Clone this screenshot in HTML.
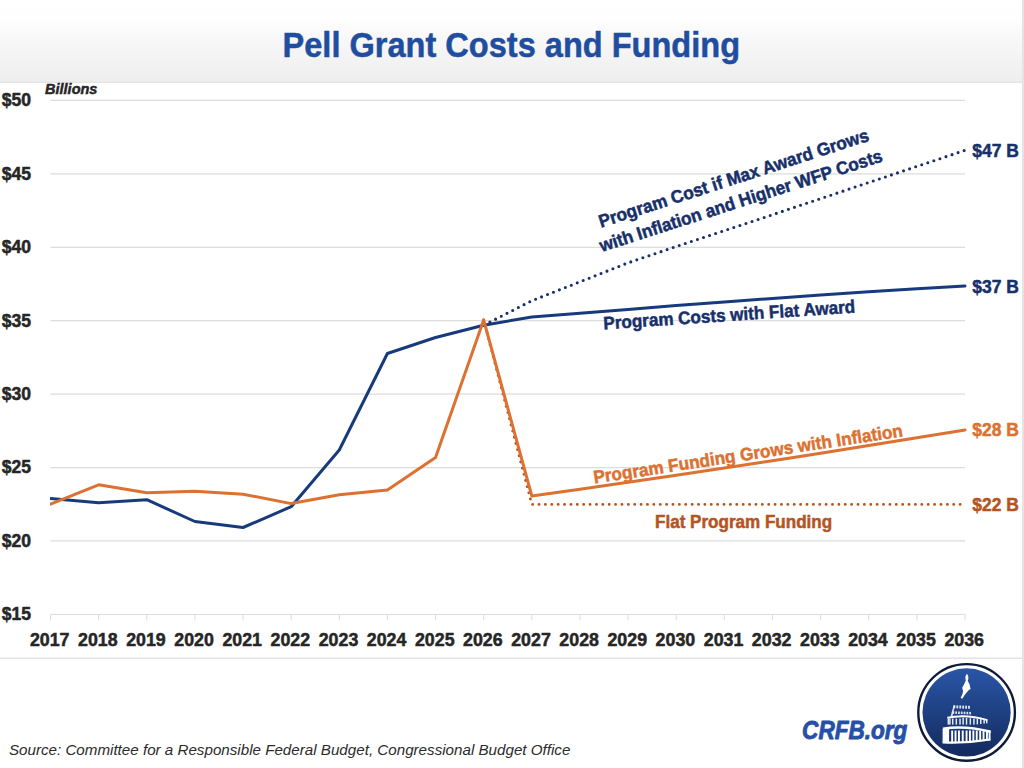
<!DOCTYPE html>
<html><head><meta charset="utf-8"><style>
html,body{margin:0;padding:0;background:#fff;}
body{width:1024px;height:768px;overflow:hidden;}
svg{display:block;font-family:"Liberation Sans", sans-serif;}
text{stroke-width:0.5px;stroke-linejoin:round;}
</style></head><body>
<svg width="1024" height="768" viewBox="0 0 1024 768">
<defs><linearGradient id="hg" x1="0" y1="0" x2="0" y2="1"><stop offset="0" stop-color="#ffffff"/><stop offset="0.24" stop-color="#fefefe"/><stop offset="0.5" stop-color="#f7f7f7"/><stop offset="1" stop-color="#eeeeee"/></linearGradient><linearGradient id="lg" x1="0" y1="0" x2="0" y2="1"><stop offset="0" stop-color="#2a56a6"/><stop offset="1" stop-color="#132a5e"/></linearGradient><clipPath id="pc"><rect x="50" y="0" width="974" height="768"/></clipPath></defs>
<rect x="0" y="0" width="1024" height="82.8" fill="url(#hg)"/>
<rect x="0" y="81.6" width="1024" height="1.2" fill="#e2e2e2"/>
<text x="511.3" y="57.4" text-anchor="middle" font-size="35" font-weight="bold" fill="#1f4ea0" stroke="#1f4ea0" textLength="457.5" lengthAdjust="spacingAndGlyphs">Pell Grant Costs and Funding</text>
<line x1="50.5" y1="100.40" x2="965.0" y2="100.40" stroke="#dcdcdc" stroke-width="1.25"/>
<line x1="50.5" y1="173.83" x2="965.0" y2="173.83" stroke="#dcdcdc" stroke-width="1.25"/>
<line x1="50.5" y1="247.26" x2="965.0" y2="247.26" stroke="#dcdcdc" stroke-width="1.25"/>
<line x1="50.5" y1="320.69" x2="965.0" y2="320.69" stroke="#dcdcdc" stroke-width="1.25"/>
<line x1="50.5" y1="394.11" x2="965.0" y2="394.11" stroke="#dcdcdc" stroke-width="1.25"/>
<line x1="50.5" y1="467.54" x2="965.0" y2="467.54" stroke="#dcdcdc" stroke-width="1.25"/>
<line x1="50.5" y1="540.97" x2="965.0" y2="540.97" stroke="#dcdcdc" stroke-width="1.25"/>
<line x1="50.5" y1="614.40" x2="965.0" y2="614.40" stroke="#dcdcdc" stroke-width="1"/>
<line x1="50.50" y1="614.40" x2="50.50" y2="620.40" stroke="#dcdcdc" stroke-width="1"/>
<line x1="98.63" y1="614.40" x2="98.63" y2="620.40" stroke="#dcdcdc" stroke-width="1"/>
<line x1="146.76" y1="614.40" x2="146.76" y2="620.40" stroke="#dcdcdc" stroke-width="1"/>
<line x1="194.89" y1="614.40" x2="194.89" y2="620.40" stroke="#dcdcdc" stroke-width="1"/>
<line x1="243.03" y1="614.40" x2="243.03" y2="620.40" stroke="#dcdcdc" stroke-width="1"/>
<line x1="291.16" y1="614.40" x2="291.16" y2="620.40" stroke="#dcdcdc" stroke-width="1"/>
<line x1="339.29" y1="614.40" x2="339.29" y2="620.40" stroke="#dcdcdc" stroke-width="1"/>
<line x1="387.42" y1="614.40" x2="387.42" y2="620.40" stroke="#dcdcdc" stroke-width="1"/>
<line x1="435.55" y1="614.40" x2="435.55" y2="620.40" stroke="#dcdcdc" stroke-width="1"/>
<line x1="483.68" y1="614.40" x2="483.68" y2="620.40" stroke="#dcdcdc" stroke-width="1"/>
<line x1="531.82" y1="614.40" x2="531.82" y2="620.40" stroke="#dcdcdc" stroke-width="1"/>
<line x1="579.95" y1="614.40" x2="579.95" y2="620.40" stroke="#dcdcdc" stroke-width="1"/>
<line x1="628.08" y1="614.40" x2="628.08" y2="620.40" stroke="#dcdcdc" stroke-width="1"/>
<line x1="676.21" y1="614.40" x2="676.21" y2="620.40" stroke="#dcdcdc" stroke-width="1"/>
<line x1="724.34" y1="614.40" x2="724.34" y2="620.40" stroke="#dcdcdc" stroke-width="1"/>
<line x1="772.47" y1="614.40" x2="772.47" y2="620.40" stroke="#dcdcdc" stroke-width="1"/>
<line x1="820.61" y1="614.40" x2="820.61" y2="620.40" stroke="#dcdcdc" stroke-width="1"/>
<line x1="868.74" y1="614.40" x2="868.74" y2="620.40" stroke="#dcdcdc" stroke-width="1"/>
<line x1="916.87" y1="614.40" x2="916.87" y2="620.40" stroke="#dcdcdc" stroke-width="1"/>
<line x1="965.00" y1="614.40" x2="965.00" y2="620.40" stroke="#dcdcdc" stroke-width="1"/>
<text x="31.0" y="106.35" text-anchor="end" font-size="17.6" font-weight="bold" fill="#262626" stroke="#262626" textLength="29.3" lengthAdjust="spacingAndGlyphs">$50</text>
<text x="31.0" y="179.78" text-anchor="end" font-size="17.6" font-weight="bold" fill="#262626" stroke="#262626" textLength="29.3" lengthAdjust="spacingAndGlyphs">$45</text>
<text x="31.0" y="253.21" text-anchor="end" font-size="17.6" font-weight="bold" fill="#262626" stroke="#262626" textLength="29.3" lengthAdjust="spacingAndGlyphs">$40</text>
<text x="31.0" y="326.64" text-anchor="end" font-size="17.6" font-weight="bold" fill="#262626" stroke="#262626" textLength="29.3" lengthAdjust="spacingAndGlyphs">$35</text>
<text x="31.0" y="400.06" text-anchor="end" font-size="17.6" font-weight="bold" fill="#262626" stroke="#262626" textLength="29.3" lengthAdjust="spacingAndGlyphs">$30</text>
<text x="31.0" y="473.49" text-anchor="end" font-size="17.6" font-weight="bold" fill="#262626" stroke="#262626" textLength="29.3" lengthAdjust="spacingAndGlyphs">$25</text>
<text x="31.0" y="546.92" text-anchor="end" font-size="17.6" font-weight="bold" fill="#262626" stroke="#262626" textLength="29.3" lengthAdjust="spacingAndGlyphs">$20</text>
<text x="31.0" y="620.35" text-anchor="end" font-size="17.6" font-weight="bold" fill="#262626" stroke="#262626" textLength="29.3" lengthAdjust="spacingAndGlyphs">$15</text>
<text x="49.70" y="645.8" text-anchor="middle" font-size="18.2" font-weight="bold" fill="#262626" stroke="#262626" textLength="39.6" lengthAdjust="spacingAndGlyphs">2017</text>
<text x="97.83" y="645.8" text-anchor="middle" font-size="18.2" font-weight="bold" fill="#262626" stroke="#262626" textLength="39.6" lengthAdjust="spacingAndGlyphs">2018</text>
<text x="145.96" y="645.8" text-anchor="middle" font-size="18.2" font-weight="bold" fill="#262626" stroke="#262626" textLength="39.6" lengthAdjust="spacingAndGlyphs">2019</text>
<text x="194.09" y="645.8" text-anchor="middle" font-size="18.2" font-weight="bold" fill="#262626" stroke="#262626" textLength="39.6" lengthAdjust="spacingAndGlyphs">2020</text>
<text x="242.23" y="645.8" text-anchor="middle" font-size="18.2" font-weight="bold" fill="#262626" stroke="#262626" textLength="39.6" lengthAdjust="spacingAndGlyphs">2021</text>
<text x="290.36" y="645.8" text-anchor="middle" font-size="18.2" font-weight="bold" fill="#262626" stroke="#262626" textLength="39.6" lengthAdjust="spacingAndGlyphs">2022</text>
<text x="338.49" y="645.8" text-anchor="middle" font-size="18.2" font-weight="bold" fill="#262626" stroke="#262626" textLength="39.6" lengthAdjust="spacingAndGlyphs">2023</text>
<text x="386.62" y="645.8" text-anchor="middle" font-size="18.2" font-weight="bold" fill="#262626" stroke="#262626" textLength="39.6" lengthAdjust="spacingAndGlyphs">2024</text>
<text x="434.75" y="645.8" text-anchor="middle" font-size="18.2" font-weight="bold" fill="#262626" stroke="#262626" textLength="39.6" lengthAdjust="spacingAndGlyphs">2025</text>
<text x="482.88" y="645.8" text-anchor="middle" font-size="18.2" font-weight="bold" fill="#262626" stroke="#262626" textLength="39.6" lengthAdjust="spacingAndGlyphs">2026</text>
<text x="531.02" y="645.8" text-anchor="middle" font-size="18.2" font-weight="bold" fill="#262626" stroke="#262626" textLength="39.6" lengthAdjust="spacingAndGlyphs">2027</text>
<text x="579.15" y="645.8" text-anchor="middle" font-size="18.2" font-weight="bold" fill="#262626" stroke="#262626" textLength="39.6" lengthAdjust="spacingAndGlyphs">2028</text>
<text x="627.28" y="645.8" text-anchor="middle" font-size="18.2" font-weight="bold" fill="#262626" stroke="#262626" textLength="39.6" lengthAdjust="spacingAndGlyphs">2029</text>
<text x="675.41" y="645.8" text-anchor="middle" font-size="18.2" font-weight="bold" fill="#262626" stroke="#262626" textLength="39.6" lengthAdjust="spacingAndGlyphs">2030</text>
<text x="723.54" y="645.8" text-anchor="middle" font-size="18.2" font-weight="bold" fill="#262626" stroke="#262626" textLength="39.6" lengthAdjust="spacingAndGlyphs">2031</text>
<text x="771.67" y="645.8" text-anchor="middle" font-size="18.2" font-weight="bold" fill="#262626" stroke="#262626" textLength="39.6" lengthAdjust="spacingAndGlyphs">2032</text>
<text x="819.81" y="645.8" text-anchor="middle" font-size="18.2" font-weight="bold" fill="#262626" stroke="#262626" textLength="39.6" lengthAdjust="spacingAndGlyphs">2033</text>
<text x="867.94" y="645.8" text-anchor="middle" font-size="18.2" font-weight="bold" fill="#262626" stroke="#262626" textLength="39.6" lengthAdjust="spacingAndGlyphs">2034</text>
<text x="916.07" y="645.8" text-anchor="middle" font-size="18.2" font-weight="bold" fill="#262626" stroke="#262626" textLength="39.6" lengthAdjust="spacingAndGlyphs">2035</text>
<text x="964.20" y="645.8" text-anchor="middle" font-size="18.2" font-weight="bold" fill="#262626" stroke="#262626" textLength="39.6" lengthAdjust="spacingAndGlyphs">2036</text>
<text x="45.1" y="93.9" font-size="14.8" font-weight="bold" font-style="italic" fill="#262626" stroke="#262626" textLength="52.3" lengthAdjust="spacingAndGlyphs">Billions</text>
<g clip-path="url(#pc)">
<polyline points="50.50,498.40 98.63,502.80 146.76,499.70 194.89,521.50 243.03,527.50 291.16,506.70 339.29,450.00 387.42,353.50 435.55,337.50 483.68,325.20 531.82,317.00 579.95,313.20 628.08,309.40 676.21,305.60 724.34,302.00 772.47,298.40 820.61,294.90 868.74,291.80 916.87,288.80 965.00,286.00" fill="none" stroke="#173a7c" stroke-width="3" stroke-linejoin="round" stroke-linecap="round"/>
<polyline points="965.00,150.30 916.87,166.40 868.74,182.50 820.61,198.60 772.47,214.70 724.34,230.60 676.21,246.50 628.08,262.80 579.95,281.80 531.82,300.70 483.68,325.20" fill="none" stroke="#17306a" stroke-width="3.1" stroke-linejoin="round" stroke-linecap="round" stroke-dasharray="0 6.39" stroke-dashoffset="5.49"/>
<polyline points="483.68,320.00 531.82,504.40 579.95,504.40 628.08,504.40 676.21,504.40 724.34,504.40 772.47,504.40 820.61,504.40 868.74,504.40 916.87,504.40 965.00,504.40" fill="none" stroke="#b5541f" stroke-width="2.9" stroke-linejoin="round" stroke-linecap="round" stroke-dasharray="0 6.38"/>
<polyline points="50.50,504.10 98.63,484.80 146.76,492.70 194.89,491.30 243.03,494.20 291.16,503.60 339.29,494.80 387.42,489.90 435.55,457.50 483.68,320.00 531.82,496.00 579.95,489.20 628.08,482.27 676.21,475.21 724.34,468.01 772.47,460.68 820.61,453.21 868.74,445.60 916.87,437.84 965.00,429.94" fill="none" stroke="#dc7131" stroke-width="3" stroke-linejoin="round" stroke-linecap="round"/>
</g>
<text x="972.3" y="157.3" font-size="17.8" font-weight="bold" fill="#17306a" stroke="#17306a" textLength="46.6" lengthAdjust="spacingAndGlyphs">$47 B</text>
<text x="972.3" y="292.8" font-size="17.8" font-weight="bold" fill="#17306a" stroke="#17306a" textLength="46.6" lengthAdjust="spacingAndGlyphs">$37 B</text>
<text x="972.3" y="436.4" font-size="17.8" font-weight="bold" fill="#dc7131" stroke="#dc7131" textLength="46.6" lengthAdjust="spacingAndGlyphs">$28 B</text>
<text x="972.3" y="511.2" font-size="17.8" font-weight="bold" fill="#b5541f" stroke="#b5541f" textLength="46.6" lengthAdjust="spacingAndGlyphs">$22 B</text>
<text transform="translate(601.00,227.70) rotate(-17.96)" x="0" y="0" font-size="18.0" font-weight="bold" fill="#17306a" stroke="#17306a" textLength="282.8" lengthAdjust="spacingAndGlyphs">Program Cost if Max Award Grows</text>
<text transform="translate(601.80,252.00) rotate(-17.87)" x="0" y="0" font-size="18.0" font-weight="bold" fill="#17306a" stroke="#17306a" textLength="296.2" lengthAdjust="spacingAndGlyphs">with Inflation and Higher WFP Costs</text>
<text transform="translate(603.80,329.40) rotate(-3.82)" x="0" y="0" font-size="18.0" font-weight="bold" fill="#17306a" stroke="#17306a" textLength="252.2" lengthAdjust="spacingAndGlyphs">Program Costs with Flat Award</text>
<text transform="translate(594.40,483.60) rotate(-8.70)" x="0" y="0" font-size="18.0" font-weight="bold" fill="#dc7131" stroke="#dc7131" textLength="312.7" lengthAdjust="spacingAndGlyphs">Program Funding Grows with Inflation</text>
<text x="655.0" y="527.8" font-size="18" font-weight="bold" fill="#b5541f" stroke="#b5541f" textLength="177.2" lengthAdjust="spacingAndGlyphs">Flat Program Funding</text>
<rect x="0" y="657.6" width="1022" height="1.2" fill="#dcdcdc"/>
<rect x="1022" y="0" width="2" height="768" fill="#e4e4e4"/>
<text x="8.9" y="755.4" font-size="15.4" font-style="italic" fill="#2b2b2b" stroke="#2b2b2b" style="stroke:none" textLength="561.5" lengthAdjust="spacingAndGlyphs">Source: Committee for a Responsible Federal Budget, Congressional Budget Office</text>
<text x="802.1" y="738.7" font-size="25.9" font-weight="bold" font-style="italic" fill="#2650a6" stroke="#2650a6" style="stroke-width:0.9px" textLength="105.3" lengthAdjust="spacingAndGlyphs">CRFB.org</text>
<circle cx="966.6" cy="712.4" r="48.3" fill="#ffffff" stroke="#0f1a35" stroke-width="2.4"/>
<circle cx="966.6" cy="712.4" r="44.1" fill="url(#lg)"/>
<g fill="#ffffff">
<path d="M966.84,673.8 L968.17,675.76 L968.39,678.86 L967.73,680.63 L969.5,684.18 L970.17,687.28 L970.6,689.05 L968.84,689.94 L967.29,691.71 L964.85,694.81 L962.19,698.8 L960.64,697.91 L962.41,693.93 L963.08,691.27 L962.19,687.72 L963.96,684.62 L965.73,680.63 L965.29,676.65 Z"/>
<rect x="953.50" y="705.30" width="1.81" height="3.00" opacity="0.85"/>
<rect x="956.42" y="705.40" width="1.81" height="3.00" opacity="0.85"/>
<rect x="959.33" y="705.50" width="1.81" height="3.00" opacity="0.85"/>
<rect x="962.25" y="705.60" width="1.81" height="3.00" opacity="0.85"/>
<rect x="965.17" y="705.70" width="1.81" height="3.00" opacity="0.85"/>
<rect x="968.08" y="705.80" width="1.81" height="3.00" opacity="0.85"/>
<rect x="952.50" y="711.30" width="1.73" height="2.50" opacity="0.85"/>
<rect x="955.29" y="711.40" width="1.73" height="2.50" opacity="0.85"/>
<rect x="958.07" y="711.50" width="1.73" height="2.50" opacity="0.85"/>
<rect x="960.86" y="711.60" width="1.73" height="2.50" opacity="0.85"/>
<rect x="963.64" y="711.70" width="1.73" height="2.50" opacity="0.85"/>
<rect x="966.43" y="711.80" width="1.73" height="2.50" opacity="0.85"/>
<rect x="969.21" y="711.90" width="1.73" height="2.50" opacity="0.85"/>
<path d="M953.5,705.5 L955,705.5 L952.5,716.5 L950.5,716.5 Z" opacity="0.8"/>
<path d="M947.2,716.8 Q966,712.6 987.6,719.2 L987.2,721 Q966,714.8 947.4,718.8 Z"/>
<rect x="947.60" y="718.60" width="1.45" height="6.00" opacity="0.9"/>
<rect x="949.20" y="718.60" width="1.45" height="6.00" opacity="0.9"/>
<rect x="952.00" y="718.60" width="1.45" height="6.00" opacity="0.9"/>
<rect x="955.60" y="718.60" width="1.45" height="6.00" opacity="0.9"/>
<rect x="959.30" y="718.60" width="1.45" height="6.00" opacity="0.9"/>
<rect x="962.40" y="717.77" width="1.45" height="6.83" opacity="0.9"/>
<rect x="965.80" y="718.01" width="1.45" height="6.59" opacity="0.9"/>
<rect x="969.60" y="718.27" width="1.45" height="6.33" opacity="0.9"/>
<rect x="973.20" y="718.52" width="1.45" height="6.08" opacity="0.9"/>
<rect x="976.60" y="718.76" width="1.45" height="5.65" opacity="0.9"/>
<rect x="980.00" y="719.00" width="1.45" height="5.00" opacity="0.9"/>
<rect x="983.40" y="719.24" width="1.45" height="4.35" opacity="0.9"/>
<rect x="986.00" y="719.42" width="1.45" height="3.86" opacity="0.9"/>
<path d="M942.8,727.6 Q964,723.8 990.8,730.6 L990.6,733 Q964,726.4 943,730.2 Z"/>
<rect x="942.6" y="729" width="6.5" height="13.6"/>
<rect x="951.20" y="730.5" width="1.9" height="11.60"/>
<rect x="954.60" y="730.5" width="1.9" height="11.60"/>
<rect x="958.00" y="730.5" width="1.9" height="11.60"/>
<rect x="961.80" y="730.5" width="1.9" height="11.60"/>
<rect x="965.60" y="730.5" width="1.9" height="11.60"/>
<rect x="969.00" y="730.5" width="1.9" height="11.60"/>
<rect x="972.40" y="730.5" width="1.9" height="11.60"/>
<rect x="975.80" y="730.5" width="1.9" height="11.50"/>
<rect x="979.20" y="730.5" width="1.9" height="11.10"/>
<rect x="982.60" y="730.5" width="1.9" height="10.69"/>
<rect x="986.00" y="730.5" width="1.9" height="10.28"/>
<rect x="988.60" y="730.5" width="1.9" height="9.97"/>
<path d="M942.6,741.2 Q966,742.2 990.2,738.6 L990.3,740.6 Q966,744.8 942.6,743.6 Z"/>
</g>
</svg>
</body></html>
